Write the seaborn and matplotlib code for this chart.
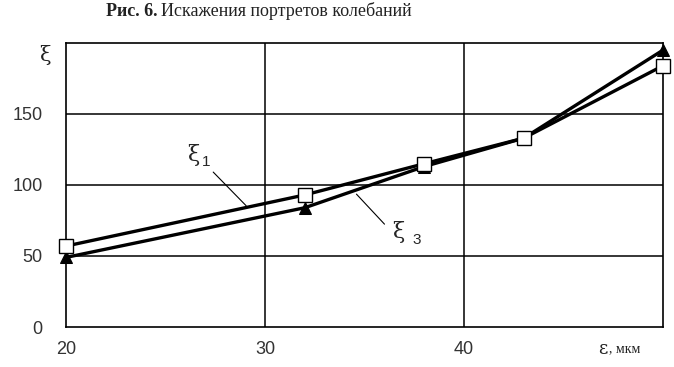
import numpy as np
import pandas as pd
import matplotlib
matplotlib.use("Agg")
import matplotlib.pyplot as plt
import seaborn as sns

# values
eps = [20, 32, 38, 43, 50]
xi1 = [57, 93, 115, 133, 184]
xi3 = [49, 84, 113, 133, 195]
x_ticks = [20, 30, 40]
y_ticks = [0, 50, 100, 150]

df1 = pd.DataFrame({"eps": eps, "xi": xi1})
df3 = pd.DataFrame({"eps": eps, "xi": xi3})

sns.set_theme(style="white")
plt.rcParams["font.family"] = ["Liberation Sans", "DejaVu Sans"]

fig = plt.figure(figsize=(6.74, 3.67), dpi=100)
ax = fig.add_axes([66 / 674, 1 - 327 / 367, (663 - 66) / 674, (327 - 43) / 367])

sns.lineplot(data=df3, x="eps", y="xi", ax=ax, color="black", lw=2.4,
             marker="^", markersize=9, markerfacecolor="black",
             markeredgecolor="black", zorder=3, clip_on=False)
sns.lineplot(data=df1, x="eps", y="xi", ax=ax, color="black", lw=2.4,
             marker="s", markersize=10, markerfacecolor="white",
             markeredgecolor="black", markeredgewidth=1.0, zorder=4,
             clip_on=False)

ax.set_xlim(20, 50)
ax.set_ylim(0, 200)
ax.set_xticks(x_ticks)
ax.set_yticks(y_ticks)
ax.set_xticklabels([str(v) for v in x_ticks])
ax.set_yticklabels([str(v) for v in y_ticks])
ax.tick_params(axis="both", length=0, labelsize=13, colors="#333333")
ax.tick_params(axis="x", pad=10)
ax.tick_params(axis="y", pad=17)
ax.set_xlabel("")
ax.set_ylabel("")

# grid
for v in [30, 40]:
    ax.axvline(v, color="black", lw=1.1, zorder=1)
for v in [50, 100, 150]:
    ax.axhline(v, color="black", lw=1.1, zorder=1)
for s in ax.spines.values():
    s.set_color("black")
    s.set_linewidth(1.2)

# axis symbols
fig.text(45 / 674, 1 - 55 / 367, "ξ", fontsize=15, family="DejaVu Serif",
         ha="center", va="center", color="#222222")
fig.text(598 / 674, 1 - 349 / 367, "ε", fontsize=13, family="DejaVu Serif",
         ha="left", va="center", color="#222222")
fig.text(609 / 674, 1 - 349 / 367, ", мкм", fontsize=10, family="Liberation Serif",
         ha="left", va="center", color="#222222")

# curve labels with leader lines
ax.text(26.4, 121, "ξ", fontsize=16, family="DejaVu Serif", ha="center", va="center")
ax.text(27.05, 116, "1", fontsize=11, ha="center", va="center")
ax.annotate("", xy=(29.15, 84), xytext=(27.3, 110.5),
            arrowprops=dict(arrowstyle="-", lw=0.8, color="black"))
ax.text(36.7, 67, "ξ", fontsize=16, family="DejaVu Serif", ha="center", va="center")
ax.text(37.6, 61, "3", fontsize=11, ha="center", va="center")
ax.annotate("", xy=(34.5, 95), xytext=(36.1, 71),
            arrowprops=dict(arrowstyle="-", lw=0.8, color="black"))

# title: bold part + regular part
fig.text(157 / 674, 1 - 11 / 367, "Рис. 6.", fontsize=13, fontweight="bold",
         family="Liberation Serif", ha="right", va="center", color="#222222")
fig.text(161 / 674, 1 - 11 / 367, "Искажения портретов колебаний", fontsize=13,
         family="Liberation Serif", ha="left", va="center", color="#222222")

fig.savefig("out.png", dpi=100)
